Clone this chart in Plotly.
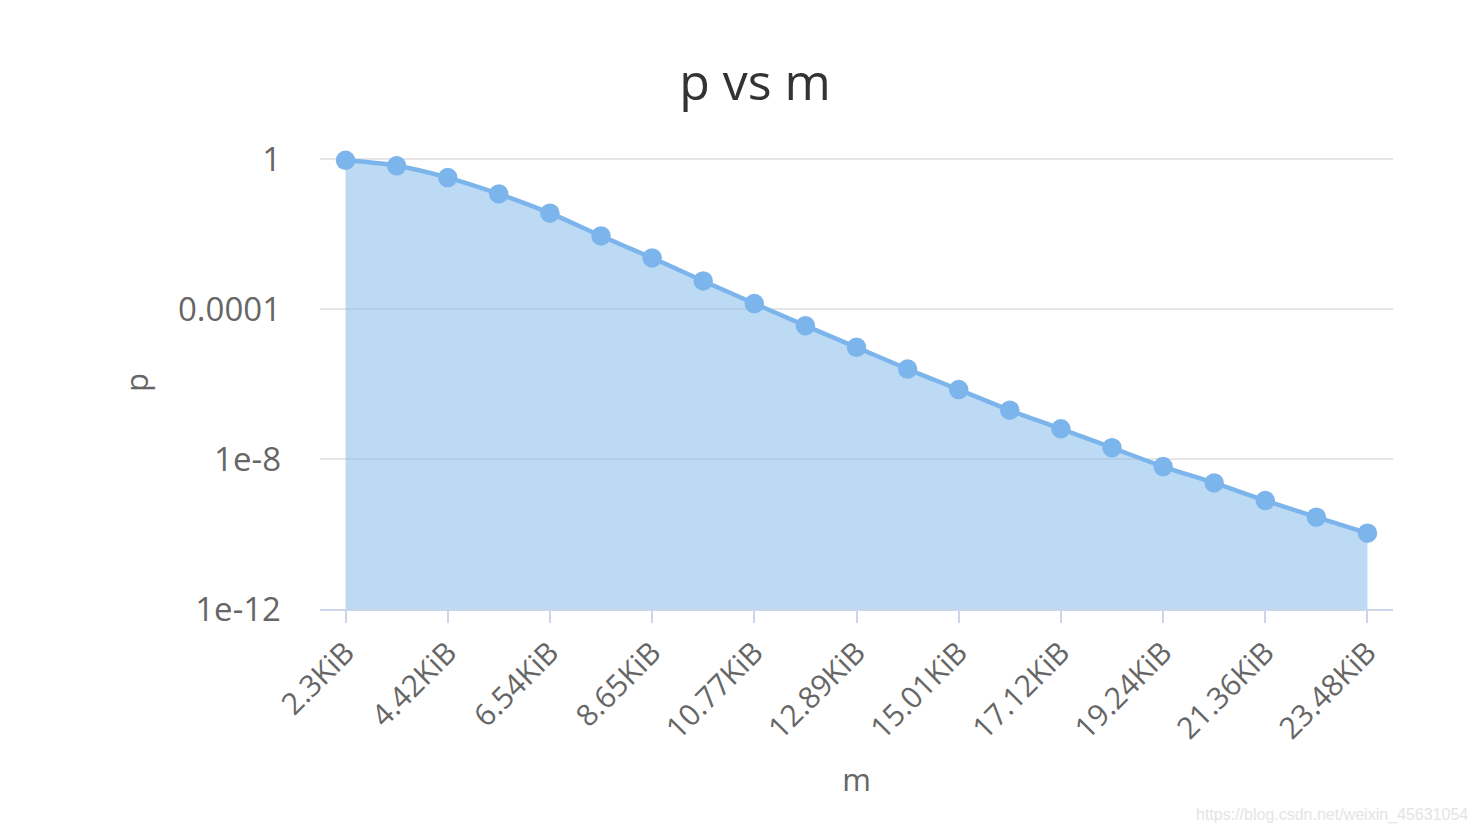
import plotly.graph_objects as go

# Data
categories = ["2.3KiB", "3.36KiB", "4.42KiB", "5.48KiB", "6.54KiB", "7.6KiB", "8.65KiB",
              "9.71KiB", "10.77KiB", "11.83KiB", "12.89KiB", "13.95KiB", "15.01KiB",
              "16.07KiB", "17.12KiB", "18.18KiB", "19.24KiB", "20.3KiB", "21.36KiB",
              "22.42KiB", "23.48KiB"]
p_values = [0.92, 0.66, 0.32, 0.117, 0.036, 0.0089, 0.0023, 5.6e-4, 1.4e-4, 3.6e-5,
            9.5e-6, 2.5e-6, 7.1e-7, 2.0e-7, 6.4e-8, 2.0e-8, 6.3e-9, 2.3e-9, 7.8e-10,
            2.8e-10, 1.05e-10]
y_tick_vals = [1, 1e-4, 1e-8, 1e-12]
y_tick_text = ["1", "0.0001", "1e-8", "1e-12"]
axis_floor = 1e-12

idx = list(range(len(categories)))
shown_ticks = idx[::2]
shown_text = [categories[i] for i in shown_ticks]

FONT = "Open Sans, DejaVu Sans, sans-serif"
LINE = "#7cb5ec"

# page body has an 8px margin; compensate so the plot lands where the reference has it
Y_TOP = 0.08          # small headroom above 1 so its gridline is drawn
W, H = 1472, 826
L, T = 312, 148
PW, PH = 1073, 453
R, B = W - L - PW, H - T - PH

fig = go.Figure()
fig.add_trace(go.Scatter(
    x=idx, y=[axis_floor] * len(idx), mode="lines",
    line=dict(width=0, color="rgba(0,0,0,0)"), hoverinfo="skip", showlegend=False,
))
fig.add_trace(go.Scatter(
    x=idx, y=p_values, mode="lines+markers", name="p",
    line=dict(color=LINE, width=4.5, shape="spline"),
    marker=dict(color=LINE, size=19.5),
    fill="tonexty", fillcolor="rgba(124,181,236,0.5)",
    cliponaxis=False, showlegend=False,
    customdata=categories,
    hovertemplate="%{customdata}: %{y}<extra></extra>",
))

fig.update_layout(
    width=W, height=H,
    paper_bgcolor="white", plot_bgcolor="white",
    margin=dict(l=L, r=R, t=T, b=B, autoexpand=False),
    title=dict(text="p vs m", x=747 / W, xanchor="center", xref="container",
               y=1 - 74 / H, yanchor="middle", yref="container",
               font=dict(family=FONT, size=50, color="#333333")),
    font=dict(family=FONT, color="#666666"),
    xaxis=dict(
        range=[-0.5, len(idx) - 0.5],
        tickvals=shown_ticks, ticktext=shown_text, tickangle=-45,
        tickfont=dict(size=30, color="#666666"),
        ticks="outside", ticklen=12, tickwidth=2, tickcolor="#ccd6eb",
        showline=True, linecolor="#ccd6eb", linewidth=2,
        showgrid=False, zeroline=False, automargin=False,
        title=dict(text="m", font=dict(size=31, color="#666666"), standoff=23),
    ),
    yaxis=dict(
        type="log", range=[-12.0, Y_TOP],
        tickvals=y_tick_vals, ticktext=y_tick_text,
        tickfont=dict(size=33, color="#666666"),
        ticklabelstandoff=38,
        showgrid=True, gridcolor="#e6e6e6", gridwidth=2,
        showline=False, zeroline=False, automargin=False,
        title=dict(text="p", font=dict(size=31, color="#666666"), standoff=20),
    ),
    annotations=[dict(
        text="https://blog.csdn.net/weixin_45631054", xref="paper", yref="paper",
        x=(1462 - L) / PW, y=-(807 - (T + PH)) / PH,
        xanchor="right", yanchor="middle", showarrow=False,
        font=dict(family="Liberation Sans, Arial, sans-serif", size=16, color="#e4e4e4"),
    )],
)

fig.write_html("out.html")
